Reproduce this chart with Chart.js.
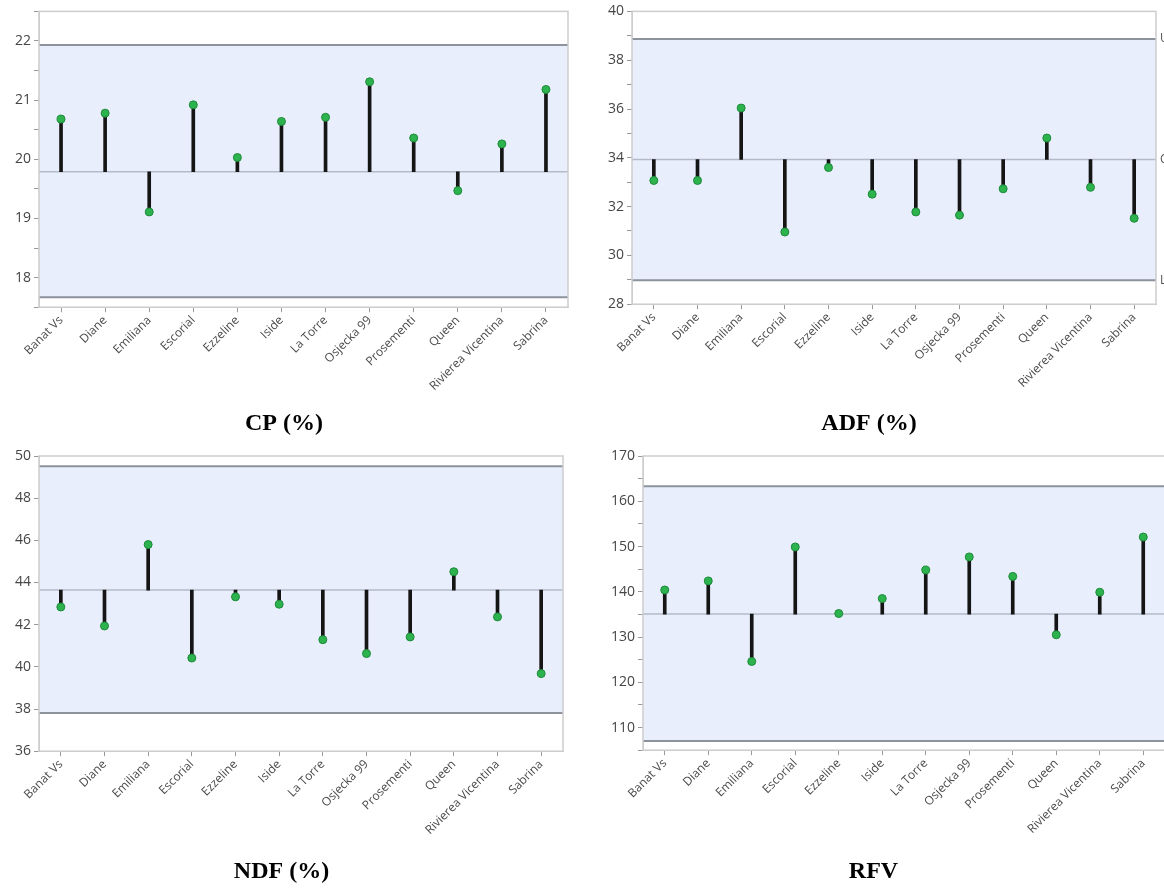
<!DOCTYPE html>
<html lang="en">
<head>
<meta charset="UTF-8">
<title>Control charts CP, ADF, NDF, RFV</title>
<script src="https://cdn.jsdelivr.net/npm/chart.js"></script>
<style>
  body { margin: 0; background: #fff; width: 1164px; height: 888px; overflow: hidden; position: relative; }
  canvas { position: absolute; }
</style>
</head>
<body>
<canvas id="cpChart" width="582" height="444" style="left:0px;top:0px"></canvas>
<canvas id="adfChart" width="582" height="444" style="left:582px;top:0px"></canvas>
<canvas id="ndfChart" width="582" height="444" style="left:0px;top:444px"></canvas>
<canvas id="rfvChart" width="600" height="444" style="left:582px;top:444px"></canvas>

<script>
// cultivars on the x axis
const cultivars = ['Banat Vs', 'Diane', 'Emiliana', 'Escorial', 'Ezzeline', 'Iside',
  'La Torre', 'Osjecka 99', 'Prosementi', 'Queen', 'Rivierea Vicentina', 'Sabrina'];

// values
const cpValues  = [20.68, 20.78, 19.11, 20.92, 20.03, 20.64, 20.71, 21.31, 20.36, 19.47, 20.26, 21.18];
const adfValues = [33.07, 33.07, 36.04, 30.96, 33.60, 32.51, 31.78, 31.65, 32.73, 34.81, 32.79, 31.52];
const ndfValues = [42.84, 41.94, 45.80, 40.42, 43.32, 42.97, 41.29, 40.63, 41.42, 44.51, 42.37, 39.68];
const rfvValues = [140.4, 142.4, 124.6, 149.9, 135.2, 138.5, 144.8, 147.7, 143.4, 130.5, 139.9, 152.1];

// control limits: [lower, centre, upper]
const cpLimits  = [17.67, 19.79, 21.93];
const adfLimits = [28.98, 33.93, 38.87];
const ndfLimits = [37.81, 43.64, 49.51];
const rfvLimits = [107.05, 135.07, 163.3];

// y axis ranges: [min, max, step, label every]
const cpAxis  = [17.5, 22.5, 0.5, 1];
const adfAxis = [28, 40, 1, 2];
const ndfAxis = [36, 50, 2, 2];
const rfvAxis = [105, 170, 5, 10];

const tickFont = 'Open Sans';

// shaded band between limits + limit lines + frame
const controlBand = {
  id: 'controlBand',
  beforeDatasetsDraw(chart, args, opts) {
    const { ctx, chartArea: a, scales: { y } } = chart;
    const yL = y.getPixelForValue(opts.limits[0]);
    const yC = y.getPixelForValue(opts.limits[1]);
    const yU = y.getPixelForValue(opts.limits[2]);
    ctx.save();
    ctx.fillStyle = '#e8eefc';
    ctx.fillRect(a.left, yU, a.right - a.left, yL - yU);

    ctx.strokeStyle = '#8d939d';
    ctx.lineWidth = 2;
    ctx.beginPath();
    ctx.moveTo(a.left, yU); ctx.lineTo(a.right, yU);
    ctx.moveTo(a.left, yL); ctx.lineTo(a.right, yL);
    ctx.stroke();

    ctx.strokeStyle = '#b3bbca';
    ctx.lineWidth = 1.5;
    ctx.beginPath();
    ctx.moveTo(a.left, yC); ctx.lineTo(a.right, yC);
    ctx.stroke();

    ctx.strokeStyle = '#cdcdcd';
    ctx.lineWidth = 1.5;
    ctx.strokeRect(a.left, a.top, a.right - a.left, a.bottom - a.top);

    if (opts.sideLabels) {
      ctx.fillStyle = '#555';
      ctx.font = '12px ' + tickFont;
      ctx.textBaseline = 'middle';
      ctx.fillText('UCL', a.right + 4, yU);
      ctx.fillText('CL', a.right + 4, yC);
      ctx.fillText('LCL', a.right + 4, yL);
    }
    ctx.restore();
  }
};

function makeChart(id, title, values, limits, axis, box) {
  const ctx = document.getElementById(id).getContext('2d');
  return new Chart(ctx, {
    type: 'bar',
    data: {
      labels: cultivars,
      datasets: [
        {
          type: 'line',
          data: values,
          showLine: false,
          pointRadius: 4,
          pointBackgroundColor: '#2db34d',
          pointBorderColor: '#1d8a3a',
          pointBorderWidth: 1,
          order: 0
        },
        {
          data: values.map(v => [limits[1], v]),
          backgroundColor: '#151515',
          barThickness: 3,
          order: 1
        }
      ]
    },
    options: {
      responsive: false,
      animation: false,
      layout: { padding: { top: box.top, right: box.right, left: 0, bottom: 0 } },
      plugins: {
        legend: { display: false },
        tooltip: { enabled: false },
        title: {
          display: true,
          text: title,
          position: 'bottom',
          color: '#000',
          font: { family: 'Liberation Serif', size: 24, weight: 'bold' },
          padding: { top: 0, bottom: box.titleBottom }
        },
        controlBand: { limits: limits, sideLabels: !!box.sideLabels }
      },
      scales: {
        x: {
          offset: true,
          ticks: {
            color: '#4a4a4a', autoSkip: false, minRotation: 45, maxRotation: 45, padding: 1,
            font: { family: tickFont, size: 12 }
          },
          grid: { offset: false, drawOnChartArea: false, tickLength: 5, color: '#9a9a9a' },
          border: { display: true, color: '#cdcdcd' },
          afterFit: s => { s.height = box.xHeight; }
        },
        y: {
          min: axis[0],
          max: axis[1],
          ticks: {
            stepSize: axis[2],
            color: '#454545',
            padding: 3,
            font: { family: tickFont, size: 14 },
            callback: v => (Math.abs(v / axis[3] - Math.round(v / axis[3])) < 1e-6 ? v : '')
          },
          grid: { drawOnChartArea: false, tickLength: 5, color: '#9a9a9a' },
          border: { display: true, color: '#cdcdcd' },
          afterFit: s => { s.width = box.yWidth; }
        }
      }
    },
    plugins: [controlBand]
  });
}

makeChart('cpChart', 'CP (%)', cpValues, cpLimits, cpAxis,
  { top: 10, right: 14, yWidth: 39, xHeight: 102, titleBottom: 6 });
makeChart('adfChart', 'ADF (%)', adfValues, adfLimits, adfAxis,
  { top: 9, right: 8, yWidth: 50, xHeight: 105, titleBottom: 6, sideLabels: true });
makeChart('ndfChart', 'NDF (%)', ndfValues, ndfLimits, ndfAxis,
  { top: 12, right: 19, yWidth: 39, xHeight: 106, titleBottom: 2 });
makeChart('rfvChart', 'RFV', rfvValues, rfvLimits, rfvAxis,
  { top: 12, right: 17, yWidth: 61, xHeight: 107, titleBottom: 2 });
</script>
</body>
</html>
